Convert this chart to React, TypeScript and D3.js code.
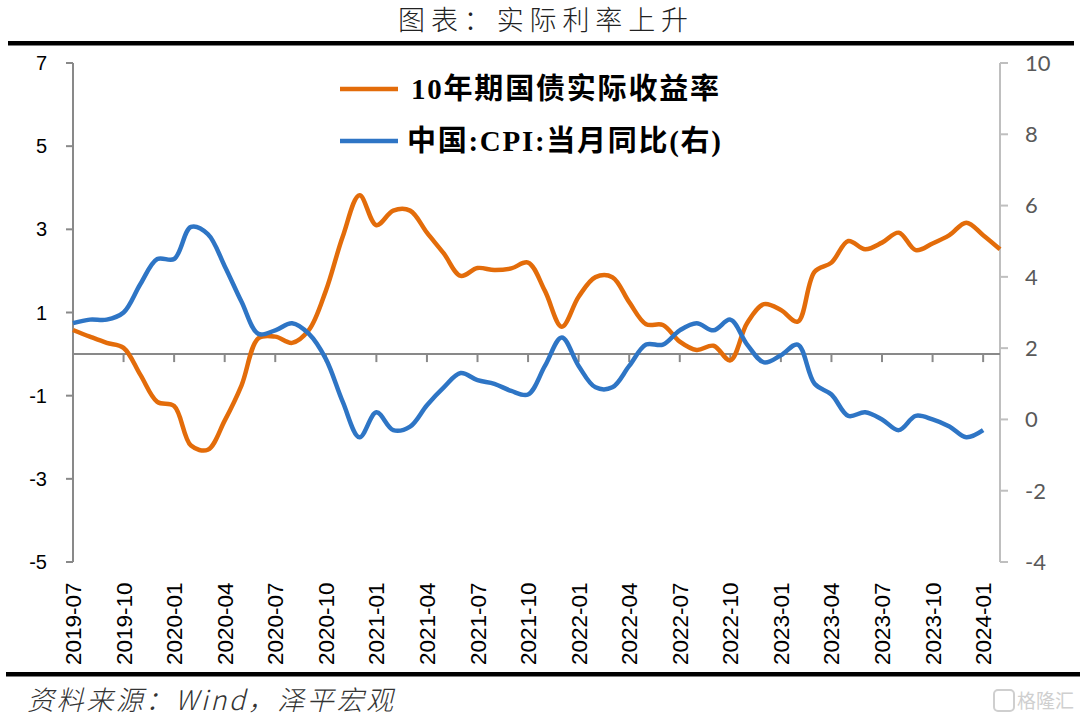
import React from "react";
import * as d3 from "d3";

// Category labels (monthly), 2019-07 .. 2024-02
const months: string[] = [];
for (let y = 2019; y <= 2024; y++) {
  for (let m = 1; m <= 12; m++) {
    const key = `${y}-${String(m).padStart(2, "0")}`;
    if (key >= "2019-07" && key <= "2024-02") months.push(key);
  }
}

// 10年期国债实际收益率 (left axis)
const realYield: number[] = [
  0.58, 0.42, 0.27, 0.15, -0.5, -1.15, -1.25, -2.2, -2.3, -1.6,
  -0.75, 0.38, 0.42, 0.27, 0.58, 1.52, 2.82, 3.82, 3.1, 3.45,
  3.45, 2.92, 2.42, 1.88, 2.07, 2.02, 2.06, 2.2, 1.52, 0.66,
  1.38, 1.85, 1.85, 1.25, 0.72, 0.7, 0.3, 0.1, 0.2, -0.15,
  0.75, 1.2, 1.06, 0.78, 1.98, 2.2, 2.72, 2.52, 2.68, 2.92,
  2.5, 2.66, 2.86, 3.16, 2.86, 2.52,
];

// 中国:CPI:当月同比 (right axis)
const cpi: number[] = [
  2.7, 2.8, 2.8, 3.0, 3.8, 4.5, 4.5, 5.4, 5.2, 4.3,
  3.3, 2.4, 2.5, 2.7, 2.4, 1.7, 0.5, -0.5, 0.2, -0.3,
  -0.2, 0.4, 0.9, 1.3, 1.1, 1.0, 0.8, 0.7, 1.5, 2.3,
  1.5, 0.9, 0.9, 1.5, 2.1, 2.1, 2.5, 2.7, 2.5, 2.8,
  2.1, 1.6, 1.8, 2.1, 1.0, 0.7, 0.1, 0.2, 0.0, -0.3,
  0.1, 0.0, -0.2, -0.5, -0.3,
];

const leftTicks = [-5, -3, -1, 1, 3, 5, 7];
const rightTicks = [-4, -2, 0, 2, 4, 6, 8, 10];
const xTickIdx = months.map((_, i) => i).filter((i) => i % 3 === 0);

const title = "图表：实际利率上升";
const source = "资料来源：Wind，泽平宏观";

const ORANGE = "#E36C0A";
const BLUE = "#2E75C5";
const CJK = "'Noto Sans CJK SC', sans-serif";
const SERIF = "'Liberation Serif', serif";

export default function App() {
  const left = 73, right = 1000, top = 63, bottom = 562;
  const x = d3.scaleLinear().domain([0, months.length - 1]).range([left, right]);
  const yL = d3.scaleLinear().domain([-5, 7]).range([bottom, top]);
  const yR = d3.scaleLinear().domain([-4, 10]).range([bottom, top]);

  const lineL = d3
    .line<number>()
    .x((_, i) => x(i))
    .y((d) => yL(d))
    .curve(d3.curveCatmullRom.alpha(0.5));
  const lineR = d3
    .line<number>()
    .x((_, i) => x(i))
    .y((d) => yR(d))
    .curve(d3.curveCatmullRom.alpha(0.5));

  const y0 = yL(0);

  return (
    <svg
      width={1080}
      height={720}
      style={{ position: "absolute", left: 0, top: 0, background: "#fff" }}
    >
      <rect x={0} y={0} width={1080} height={720} fill="#fff" />
      {/* Title */}
      <text
        x={543}
        y={30}
        textAnchor="middle"
        fontFamily={CJK}
        fontSize={27}
        fontWeight={300}
        fill="#222"
        textLength={290}
        lengthAdjust="spacing"
      >
        {title}
      </text>
      <rect x={8} y={41} width={1066} height={4.5} fill="#000" />

      {/* Left axis */}
      <line x1={left} x2={left} y1={top} y2={bottom} stroke="#898989" strokeWidth={2} />
      {leftTicks.map((t) => (
        <g key={"l" + t}>
          <line x1={left - 7} x2={left} y1={yL(t)} y2={yL(t)} stroke="#898989" strokeWidth={2} />
          <text
            x={47}
            y={yL(t)}
            dy="0.35em"
            textAnchor="end"
            fontFamily="'Liberation Sans', Arial, sans-serif"
            fontSize={20}
            fill="#000"
          >
            {t}
          </text>
        </g>
      ))}

      {/* Right axis */}
      <line x1={right} x2={right} y1={top} y2={bottom} stroke="#BFBFBF" strokeWidth={2} />
      {rightTicks.map((t) => (
        <g key={"r" + t}>
          <line x1={right} x2={right + 8} y1={yR(t)} y2={yR(t)} stroke="#BFBFBF" strokeWidth={2} />
          <text
            x={1025}
            y={yR(t)}
            dy="0.36em"
            textAnchor="start"
            fontFamily="Lato, 'Open Sans', sans-serif"
            fontSize={22}
            fill="#595959"
          >
            {t}
          </text>
        </g>
      ))}

      {/* X axis at left-zero */}
      <line x1={left} x2={right} y1={y0} y2={y0} stroke="#898989" strokeWidth={2} />
      {xTickIdx.map((i) => (
        <g key={"x" + i}>
          <line x1={x(i)} x2={x(i)} y1={y0} y2={y0 + 8} stroke="#898989" strokeWidth={2} />
          <text
            transform={`translate(${x(i) + 8},665) rotate(-90)`}
            textAnchor="start"
            fontFamily="'Liberation Sans', Arial, sans-serif"
            fontSize={22.5}
            fill="#000"
          >
            {months[i]}
          </text>
        </g>
      ))}

      {/* Series */}
      <path d={lineL(realYield) || ""} fill="none" stroke={ORANGE} strokeWidth={4.5} strokeLinejoin="round" />
      <path d={lineR(cpi) || ""} fill="none" stroke={BLUE} strokeWidth={4.5} strokeLinejoin="round" />

      {/* Legend */}
      <line x1={340} x2={398} y1={89} y2={89} stroke={ORANGE} strokeWidth={4.5} />
      <text x={411} y={99} fontSize={29} fontWeight={700} fill="#000" textLength={308} lengthAdjust="spacing">
        <tspan fontFamily={SERIF}>10</tspan>
        <tspan fontFamily={CJK}>年期国债实际收益率</tspan>
      </text>
      <line x1={340} x2={398} y1={141} y2={141} stroke={BLUE} strokeWidth={4.5} />
      <text x={407} y={151} fontSize={29} fontWeight={700} fill="#000" textLength={314} lengthAdjust="spacing">
        <tspan fontFamily={CJK}>中国</tspan>
        <tspan fontFamily={SERIF}>:CPI:</tspan>
        <tspan fontFamily={CJK}>当月同比</tspan>
        <tspan fontFamily={SERIF}>(</tspan>
        <tspan fontFamily={CJK}>右</tspan>
        <tspan fontFamily={SERIF}>)</tspan>
      </text>

      {/* Bottom rule and source */}
      <rect x={6} y={672} width={1074} height={4.5} fill="#000" />
      <text
        x={27}
        y={710}
        fontFamily={CJK}
        fontSize={27}
        fontStyle="italic"
        fontWeight={300}
        fill="#333"
        textLength={366}
        lengthAdjust="spacing"
      >
        {source}
      </text>

      {/* Watermark */}
      <rect x={994} y={690} width={20} height={21} rx={4} fill="none" stroke="#cfcfcf" strokeWidth={2} />
      <text x={1017} y={708} fontFamily={CJK} fontSize={19} fill="#cfcfcf">
        格隆汇
      </text>
    </svg>
  );
}
